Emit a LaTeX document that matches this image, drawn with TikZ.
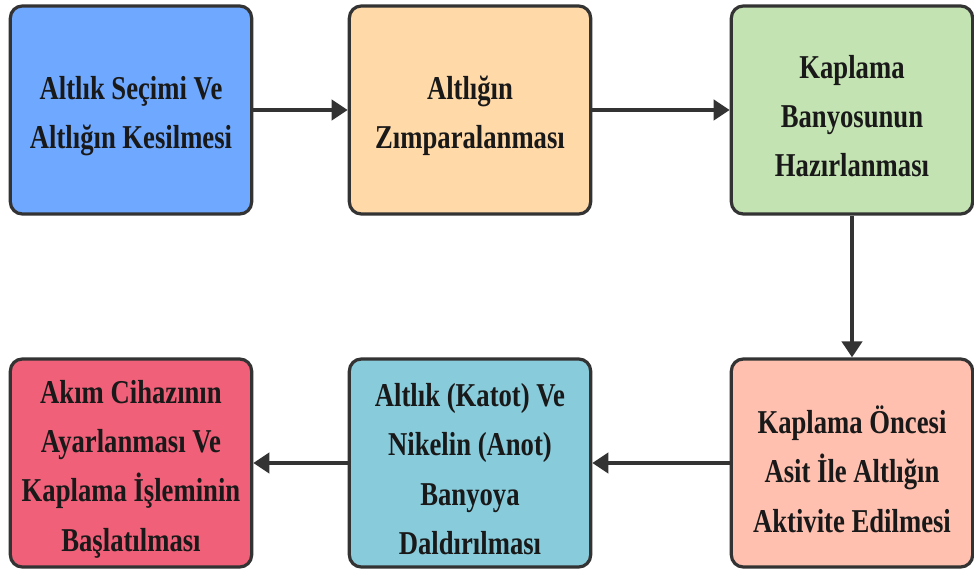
\documentclass[tikz,border=0pt]{standalone}
\usepackage{fontspec}
\setmainfont{Liberation Serif}[FakeStretch=0.8]
\usetikzlibrary{arrows.meta}
\definecolor{cA}{HTML}{6FA8FF}
\definecolor{cB}{HTML}{FFD9A8}
\definecolor{cC}{HTML}{C4E3B2}
\definecolor{cD}{HTML}{F06079}
\definecolor{cE}{HTML}{88CCDC}
\definecolor{cF}{HTML}{FFC0B0}
\definecolor{edge}{HTML}{333333}
\tikzset{
  stepbox/.style={draw=edge, line width=2.4pt, rounded corners=9pt,
    minimum width=181pt, minimum height=156pt, inner sep=0pt},
  steptext/.style={align=center, inner sep=0pt, text=black!90,
    font=\fontsize{25}{37}\selectfont\bfseries},
  conn/.style={draw=edge, line width=3pt, -{Triangle[length=12pt,width=15pt]}}
}
\begin{document}
\begin{tikzpicture}[x=0.75pt,y=-0.75pt]
\useasboundingbox (0,0) rectangle (974,570);
\node[stepbox, fill=cA] (b1) at (131,110) {};
\node[stepbox, fill=cB] (b2) at (470,110) {};
\node[stepbox, fill=cC] (b3) at (852,110) {};
\node[stepbox, fill=cF] (b6) at (852,463) {};
\node[stepbox, fill=cE] (b5) at (470,463) {};
\node[stepbox, fill=cD] (b4) at (131,463) {};
\node[steptext] (t1) at ([yshift=-4.5pt]b1.center) {Altlık Seçimi Ve\\Altlığın Kesilmesi};
\node[steptext] (t2) at ([yshift=-4.5pt]b2.center) {Altlığın\\Zımparalanması};
\node[steptext] (t3) at ([yshift=-4.5pt]b3.center) {Kaplama\\Banyosunun\\Hazırlanması};
\node[steptext] (t6) at ([yshift=-4.5pt]b6.center) {Kaplama Öncesi\\Asit İle Altlığın\\Aktivite Edilmesi};
\node[steptext] (t5) at ([yshift=-4.5pt]b5.center) {Altlık (Katot) Ve\\Nikelin (Anot)\\Banyoya\\Daldırılması};
\node[steptext] (t4) at ([yshift=-4.5pt]b4.center) {Akım Cihazının\\Ayarlanması Ve\\Kaplama İşleminin\\Başlatılması};
\draw[conn] (b1) -- (b2);
\draw[conn] (b2) -- (b3);
\draw[conn] (b3) -- (b6);
\draw[conn] (b6) -- (b5);
\draw[conn] (b5) -- (b4);
\end{tikzpicture}
\end{document}
